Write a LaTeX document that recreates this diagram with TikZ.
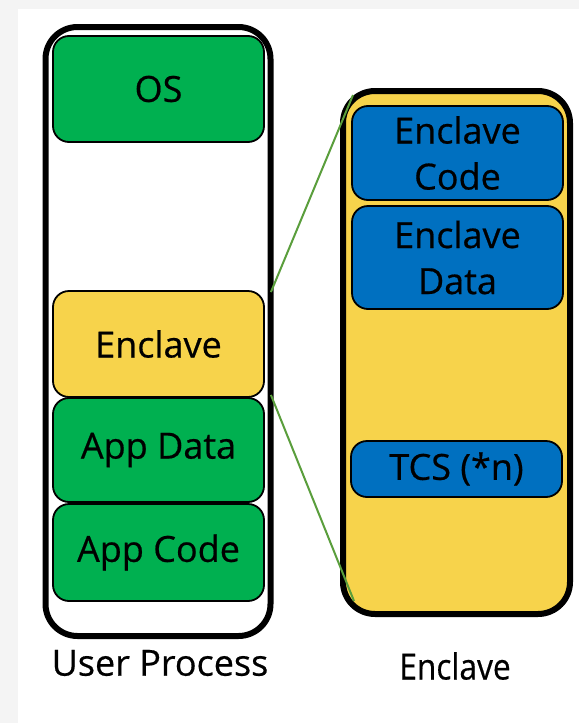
\documentclass[tikz,border=0pt]{standalone}
\usepackage{fontspec}
\setmainfont[FakeBold=0.5]{Open Sans}
\newfontfamily\narrowfont[FakeStretch=0.88,FakeBold=0.5]{Open Sans}
\definecolor{sgxgreen}{HTML}{00B050}
\definecolor{sgxyellow}{HTML}{F7D34B}
\definecolor{sgxblue}{HTML}{0070C0}
\definecolor{linkgreen}{HTML}{5A9E3C}
\definecolor{pagegrey}{HTML}{F4F4F4}

\newcommand{\region}[5]{%
 \node[region,fill={#4},minimum height={#5}] ({#1}) at ({#2}) {#3};%
}

\begin{document}
\begin{tikzpicture}[x=1pt,y=-1pt,
   region/.style={draw=black,line width=1.8pt,rounded corners=16pt,minimum width=211pt,inner sep=0pt,align=center,font=\fontsize{36}{46}\selectfont},
   container/.style={draw=black,line width=6pt,rounded corners=32pt},
   caption/.style={font=\fontsize{36}{42}\selectfont},
   link/.style={draw=linkgreen,line width=2pt}]
   \fill[pagegrey] (0,0) rectangle (579,723);
   \fill[white] (18,9) rectangle (579,723);
   \useasboundingbox (0,0) rectangle (579,723);
   \node[container,minimum width=225pt,minimum height=609pt] (proc) at (158,331.5) {};
   \node[container,fill=sgxyellow,minimum width=227pt,minimum height=523pt] (enclbox) at (456.5,352.5) {};
   \region{os}{158.5,89}{OS}{sgxgreen}{106pt};
   \region{encl}{158.5,344}{Enclave}{sgxyellow}{106pt};
   \region{appdata}{158.5,450}{App Data}{sgxgreen}{104pt};
   \region{appcode}{158.5,552.5}{App Code}{sgxgreen}{97pt};
   \region{ecode}{457.5,153}{Enclave\\Code}{sgxblue}{94pt};
   \region{edata}{457.5,257.5}{Enclave\\Data}{sgxblue}{103pt};
   \region{tcs}{456.5,469}{TCS (*n)}{sgxblue}{56pt};
   \node[caption] (proclabel) at (160,663) {User Process};
   \node[caption,font=\narrowfont\fontsize{36}{42}\selectfont] (encllabel) at (455,666) {Enclave};
   \path[link] ([shift={(6,2)}]encl.north east) -- ([shift={(13,7)}]enclbox.north west);
   \path[link] ([shift={(6,-3)}]encl.south east) -- ([shift={(14,-16)}]enclbox.south west);
\end{tikzpicture}
\end{document}
